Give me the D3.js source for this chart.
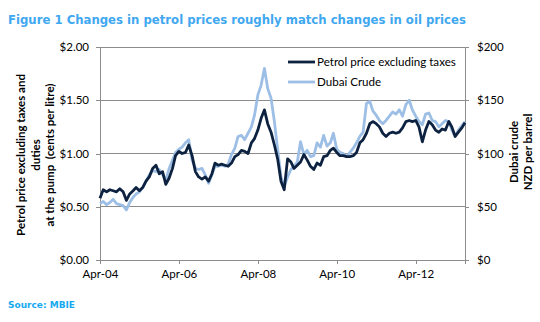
<!DOCTYPE html>
<html>
<head>
<meta charset="utf-8">
<script src="https://cdn.jsdelivr.net/npm/d3@7"></script>
<style>
  body { margin: 0; background: #fff; }
  svg { display: block; }
  .axis text { font-family: Lato, "Liberation Sans", sans-serif; font-size: 11.5px; fill: #000; }
  .axis path, .axis line { stroke: #8c8c8c; }
</style>
</head>
<body>
<script>
// monthly series, Apr-04 onwards
var startMonth = "Apr-04";
var petrol = [0.58, 0.66, 0.64, 0.66, 0.65, 0.64, 0.67, 0.64, 0.56, 0.62,
  0.65, 0.68, 0.65, 0.68, 0.74, 0.78, 0.86, 0.89, 0.81, 0.83,
  0.71, 0.77, 0.86, 0.98, 1.02, 1.00, 1.01, 1.08, 0.98, 0.83,
  0.78, 0.76, 0.78, 0.74, 0.81, 0.91, 0.89, 0.90, 0.89, 0.88,
  0.91, 0.97, 0.99, 1.03, 1.02, 1.00, 1.10, 1.14, 1.22, 1.33,
  1.41, 1.28, 1.20, 1.08, 0.95, 0.74, 0.66, 0.95, 0.92, 0.86,
  0.89, 0.92, 0.99, 0.94, 0.88, 0.85, 0.91, 0.89, 0.97, 0.98,
  1.03, 1.05, 1.01, 0.98, 0.98, 0.97, 0.97, 0.98, 1.01, 1.10,
  1.13, 1.19, 1.28, 1.30, 1.28, 1.25, 1.19, 1.16, 1.19, 1.20,
  1.19, 1.20, 1.24, 1.30, 1.31, 1.30, 1.31, 1.25, 1.11, 1.22,
  1.30, 1.27, 1.22, 1.20, 1.23, 1.22, 1.30, 1.25, 1.16, 1.20,
  1.24, 1.29];
var dubai = [53, 55, 52, 54, 57, 53, 52, 51, 47, 54,
  59, 62, 64, 68, 74, 80, 84, 83, 85, 80,
  75, 86, 94, 101, 104, 106, 110, 113, 94, 86,
  85, 86, 80, 72, 80, 88, 88, 89, 88, 90,
  99, 105, 116, 117, 113, 119, 125, 136, 155, 164,
  180, 161, 152, 130, 104, 78, 69, 78, 85, 88,
  92, 111, 99, 103, 97, 98, 110, 106, 117, 107,
  110, 119, 104, 101, 100, 97, 101, 105, 110, 116,
  120, 147, 149, 140, 136, 131, 128, 131, 135, 139,
  137, 141, 135, 146, 150, 141, 135, 130, 127, 137,
  138, 131, 130, 125, 128, 131, 130, 122, 116, 122,
  126, 130];
var xTicks = ["Apr-04", "Apr-06", "Apr-08", "Apr-10", "Apr-12"];
var leftTicks = [0, 0.5, 1, 1.5, 2];
var rightTicks = [0, 50, 100, 150, 200];
var seriesNames = ["Petrol price excluding taxes", "Dubai Crude"];

var W = 540, H = 322;
var margin = { top: 47, right: 75, bottom: 62, left: 100 };

var parseMonth = d3.timeParse("%b-%y");
var fmtMonth = d3.timeFormat("%b-%y");
var t0 = parseMonth(startMonth);
var dates = petrol.map(function (d, i) { return d3.timeMonth.offset(t0, i); });

var svg = d3.select("body").append("svg")
    .attr("width", W)
    .attr("height", H);

var x = d3.scaleTime()
    .domain([t0, dates[dates.length - 1]])
    .range([margin.left, W - margin.right]);
var yL = d3.scaleLinear().domain([0, 2]).range([H - margin.bottom, margin.top]);
var yR = d3.scaleLinear().domain([0, 200]).range([H - margin.bottom, margin.top]);

// gridlines
svg.append("g")
    .selectAll("line")
    .data(leftTicks.slice(1))
    .enter().append("line")
    .attr("x1", margin.left).attr("x2", W - margin.right)
    .attr("y1", function (d) { return yL(d); })
    .attr("y2", function (d) { return yL(d); })
    .attr("stroke", "#8c8c8c")
    .attr("stroke-width", 1)
    .attr("shape-rendering", "crispEdges");

// axes
svg.append("g")
    .attr("class", "axis")
    .attr("transform", "translate(" + margin.left + ",0)")
    .call(d3.axisLeft(yL).tickValues(leftTicks).tickSize(4).tickPadding(7)
        .tickFormat(function (d) { return "$" + d.toFixed(2); }))
    .attr("shape-rendering", "crispEdges");

svg.append("g")
    .attr("class", "axis")
    .attr("transform", "translate(" + (W - margin.right) + ",0)")
    .call(d3.axisRight(yR).tickValues(rightTicks).tickSize(4).tickPadding(8)
        .tickFormat(function (d) { return "$" + d; }))
    .attr("shape-rendering", "crispEdges");

svg.append("g")
    .attr("class", "axis")
    .attr("transform", "translate(0," + (H - margin.bottom) + ")")
    .call(d3.axisBottom(x).tickValues(xTicks.map(parseMonth)).tickSize(4).tickPadding(6)
        .tickFormat(fmtMonth))
    .attr("shape-rendering", "crispEdges");

svg.selectAll(".axis .domain").attr("stroke", "#8c8c8c");

// lines
var lineL = d3.line()
    .x(function (d, i) { return x(dates[i]); })
    .y(function (d) { return yL(d); });
var lineR = d3.line()
    .x(function (d, i) { return x(dates[i]); })
    .y(function (d) { return yR(d); });

svg.append("path")
    .datum(dubai)
    .attr("d", lineR)
    .attr("fill", "none")
    .attr("stroke", "#9dbfe6")
    .attr("stroke-width", 2.8)
    .attr("stroke-linejoin", "round");

svg.append("path")
    .datum(petrol)
    .attr("d", lineL)
    .attr("fill", "none")
    .attr("stroke", "#0d2240")
    .attr("stroke-width", 2.8)
    .attr("stroke-linejoin", "round");

// legend
var legColors = ["#0d2240", "#9dbfe6"];
var leg = svg.append("g").attr("transform", "translate(288,62)");
seriesNames.forEach(function (name, i) {
    leg.append("line")
        .attr("x1", 0).attr("x2", 27)
        .attr("y1", i * 20).attr("y2", i * 20)
        .attr("stroke", legColors[i])
        .attr("stroke-width", 2.8);
    leg.append("text")
        .attr("x", 29).attr("y", i * 20 + 4)
        .style("font-family", "Lato, 'Liberation Sans', sans-serif")
        .style("font-size", "11.6px")
        .text(name);
});

// axis titles
var leftTitle = ["Petrol price excluding taxes and", "duties", "at the pump  (cents per litre)"];
svg.append("text")
    .attr("transform", "translate(25,155) rotate(-90)")
    .attr("text-anchor", "middle")
    .style("font-family", "Lato, 'Liberation Sans', sans-serif")
    .style("font-size", "11.5px")
    .style("font-weight", "bold")
    .selectAll("tspan")
    .data(leftTitle)
    .enter().append("tspan")
    .attr("x", 0)
    .attr("dy", function (d, i) { return i ? 14.5 : 0; })
    .style("white-space", "pre")
    .text(function (d) { return d; });

var rightTitle = ["Dubai crude", "NZD per barrel"];
svg.append("text")
    .attr("transform", "translate(518,152) rotate(-90)")
    .attr("text-anchor", "middle")
    .style("font-family", "Lato, 'Liberation Sans', sans-serif")
    .style("font-size", "11.5px")
    .style("font-weight", "bold")
    .selectAll("tspan")
    .data(rightTitle)
    .enter().append("tspan")
    .attr("x", 0)
    .attr("dy", function (d, i) { return i ? 13.5 : 0; })
    .text(function (d) { return d; });

// title and source
svg.append("text")
    .attr("x", 8).attr("y", 24)
    .style("font-family", "'DejaVu Sans', Verdana, sans-serif")
    .style("font-size", "11.7px")
    .style("font-weight", "bold")
    .style("fill", "#3fa8f0")
    .text("Figure 1 Changes in petrol prices roughly match changes in oil prices");

svg.append("text")
    .attr("x", 8).attr("y", 308)
    .style("font-family", "'DejaVu Sans', Verdana, sans-serif")
    .style("font-size", "9px")
    .style("font-weight", "bold")
    .style("fill", "#16aaf0")
    .text("Source: MBIE");
</script>
</body>
</html>
